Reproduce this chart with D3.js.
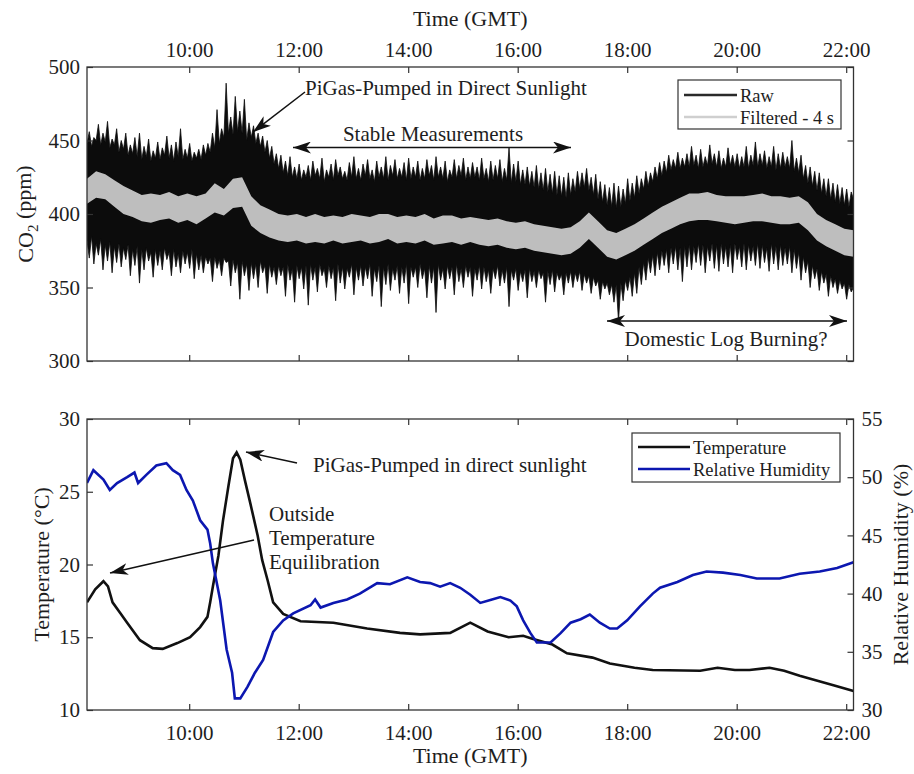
<!DOCTYPE html>
<html>
<head>
<meta charset="utf-8">
<script src="https://cdn.jsdelivr.net/npm/d3@7"></script>
<style>
  body { margin: 0; background: #fff; }
  svg text { font-family: "Liberation Serif", "Times New Roman", serif; fill: #1e1e1e; }
</style>
</head>
<body>
<svg id="chart" width="914" height="774"></svg>
<script>
var startTime = "08:08"
var endTime = "22:08"
var timeTicks = ["10:00", "12:00", "14:00", "16:00", "18:00", "20:00", "22:00"]

// CO2 raw envelope (ppm), one value every 150 s from 08:08, one row per hour
var rawStepSeconds = 150
var co2RawHigh = [
    448, 456, 446, 452, 450, 461, 447, 455, 449, 463, 445, 451, 447, 458, 442, 450, 444, 455, 440, 447, 441, 452, 439, 455,
    437, 446, 439, 451, 436, 443, 438, 449, 437, 445, 440, 453, 438, 447, 436, 449, 439, 458, 437, 444, 438, 448, 436, 442,
    438, 444, 437, 447, 440, 448, 442, 455, 445, 471, 448, 458, 452, 489, 455, 466, 454, 480, 456, 470, 455, 478, 450, 462,
    452, 460, 448, 455, 446, 453, 442, 450, 438, 446, 434, 441, 431, 440, 428, 436, 426, 439, 425, 432, 424, 434, 423, 430,
    425, 433, 423, 436, 426, 431, 424, 438, 422, 430, 425, 434, 423, 437, 426, 432, 424, 429, 423, 435, 425, 439, 424, 431,
    423, 434, 426, 437, 424, 430, 422, 436, 425, 432, 424, 439, 423, 433, 426, 437, 424, 431, 425, 435, 423, 438, 424, 432,
    425, 436, 423, 431, 424, 437, 426, 433, 423, 439, 425, 432, 424, 436, 422, 430, 425, 437, 424, 433, 426, 438, 423, 432,
    424, 435, 425, 432, 423, 438, 424, 431, 422, 436, 423, 433, 424, 437, 422, 431, 423, 445, 421, 434, 422, 436, 420, 430,
    420, 432, 419, 429, 418, 433, 417, 428, 416, 431, 415, 427, 414, 429, 413, 426, 412, 425, 411, 428, 413, 424, 415, 429,
    417, 428, 418, 431, 416, 425, 413, 427, 410, 422, 408, 420, 406, 418, 405, 421, 404, 419, 405, 417, 407, 424, 409, 421,
    411, 426, 414, 424, 417, 429, 419, 428, 422, 432, 424, 435, 426, 436, 428, 440, 430, 437, 431, 442, 431, 438, 432, 441,
    432, 446, 433, 440, 431, 444, 432, 439, 433, 447, 434, 441, 432, 443, 431, 438, 432, 445, 433, 440, 432, 441, 431, 439,
    432, 446, 431, 440, 433, 449, 432, 441, 433, 443, 431, 439, 432, 446, 430, 441, 431, 442, 432, 439, 431, 450, 429, 438,
    428, 440, 424, 433, 421, 432, 419, 429, 416, 428, 414, 424, 412, 424, 410, 421, 408, 420, 407, 418, 406, 417, 405, 415,
    410
]
var co2RawLow = [
    382, 370, 385, 366, 380, 372, 383, 362, 379, 368, 381, 360, 378, 367, 380, 364, 377, 369, 379, 358, 376, 365, 378, 353,
    376, 362, 377, 368, 374, 357, 376, 365, 375, 362, 377, 369, 374, 358, 376, 364, 373, 360, 375, 366, 374, 363, 376, 356,
    373, 362, 372, 360, 371, 366, 370, 354, 371, 363, 369, 358, 370, 367, 368, 351, 369, 360, 367, 342, 368, 358, 366, 348,
    367, 356, 366, 350, 368, 360, 365, 346, 366, 357, 364, 352, 365, 358, 364, 344, 366, 355, 363, 340, 365, 356, 364, 349,
    365, 338, 366, 355, 364, 347, 366, 358, 363, 350, 365, 356, 364, 341, 366, 353, 364, 349, 363, 357, 366, 345, 364, 355,
    365, 351, 364, 356, 366, 344, 363, 354, 365, 337, 364, 352, 366, 348, 363, 355, 365, 346, 364, 353, 366, 339, 364, 357,
    364, 350, 366, 356, 363, 343, 365, 353, 364, 333, 366, 355, 363, 349, 365, 356, 364, 345, 366, 354, 363, 350, 365, 357,
    364, 344, 363, 355, 365, 349, 364, 354, 362, 346, 363, 356, 365, 351, 362, 353, 364, 337, 362, 355, 363, 348, 361, 354,
    362, 343, 363, 354, 361, 350, 362, 356, 360, 340, 361, 352, 362, 347, 360, 355, 359, 345, 360, 353, 361, 350, 360, 354,
    361, 348, 359, 353, 358, 346, 357, 351, 355, 342, 354, 349, 353, 345, 352, 340, 352, 327, 353, 341, 355, 348, 357, 344,
    360, 346, 364, 352, 367, 355, 370, 360, 372, 358, 374, 362, 375, 365, 376, 360, 377, 366, 378, 362, 377, 354, 378, 364,
    379, 362, 378, 367, 380, 365, 379, 360, 378, 368, 380, 363, 379, 361, 380, 366, 378, 364, 379, 360, 380, 369, 378, 364,
    380, 362, 379, 368, 378, 365, 380, 363, 379, 367, 377, 361, 380, 366, 378, 362, 379, 365, 377, 366, 378, 360, 376, 363,
    374, 355, 371, 360, 368, 350, 365, 356, 363, 348, 361, 353, 359, 344, 358, 350, 356, 346, 355, 349, 353, 342, 352, 347,
    350
]

// CO2 filtered (4 s) band (ppm), one value every 10 min from 08:08
var filtStepSeconds = 600
var co2FiltHigh = [
    424, 429, 427, 423, 419, 416, 413, 414, 413, 415, 412, 414,
    412, 414, 421, 417, 424, 425, 412, 406, 403, 400, 399, 400,
    398, 400, 398, 399, 398, 400, 399, 398, 400, 400, 398, 399,
    398, 400, 397, 399, 399, 397, 398, 397, 396, 397, 395, 394,
    395, 393, 392, 391, 390, 391, 395, 401, 395, 389, 387, 390,
    393, 397, 401, 405, 408, 411, 414, 414, 415, 413, 412, 412,
    412, 413, 414, 412, 412, 411, 412, 408, 400, 396, 393, 390, 389
]
var co2FiltLow = [
    407, 411, 410, 405, 400, 398, 395, 394, 396, 397, 394, 396,
    393, 397, 401, 399, 404, 405, 392, 387, 384, 382, 381, 382,
    380, 381, 380, 382, 380, 381, 382, 380, 381, 383, 380, 381,
    380, 382, 379, 380, 381, 379, 381, 379, 378, 379, 377, 376,
    377, 375, 374, 373, 372, 373, 377, 383, 377, 371, 369, 372,
    375, 379, 383, 387, 390, 393, 395, 396, 396, 395, 394, 393,
    394, 395, 395, 394, 393, 393, 394, 389, 382, 378, 375, 372, 371
]

var co2Ticks = [300, 350, 400, 450, 500]
var tempTicks = [10, 15, 20, 25, 30]
var rhTicks = [30, 35, 40, 45, 50, 55]

var tempTimes = ["08:08", "08:17", "08:26", "08:31", "08:36", "08:44", "08:52", "09:06", "09:20", "09:31",
    "09:47", "10:01", "10:12", "10:20", "10:23", "10:26", "10:32", "10:37", "10:43", "10:48",
    "10:52", "10:56", "11:01", "11:07", "11:15", "11:20", "11:26", "11:32", "11:43", "12:02",
    "12:38", "13:15", "13:51", "14:13", "14:46", "15:08", "15:27", "15:50", "16:06", "16:16",
    "16:38", "16:54", "17:22", "17:41", "18:08", "18:28", "19:20", "19:39", "19:58", "20:14",
    "20:36", "20:52", "21:09", "21:46", "22:08"]
var tempValues = [17.4, 18.3, 18.85, 18.5, 17.4, 16.7, 16.0, 14.8, 14.25, 14.2,
    14.6, 15.0, 15.7, 16.4, 17.4, 18.5, 20.6, 23.0, 25.4, 27.3,
    27.7, 27.2, 25.8, 24.2, 22.0, 20.3, 18.9, 17.4, 16.6, 16.1,
    16.0, 15.6, 15.3, 15.2, 15.3, 16.0, 15.4, 15.0, 15.1, 14.9,
    14.5, 13.9, 13.6, 13.2, 12.9, 12.75, 12.7, 12.9, 12.75, 12.75,
    12.9, 12.7, 12.35, 11.7, 11.3]

var rhTimes = ["08:08", "08:15", "08:26", "08:33", "08:41", "08:52", "09:00", "09:04", "09:13", "09:24",
    "09:35", "09:42", "09:50", "09:57", "10:04", "10:12", "10:20", "10:23", "10:26", "10:31",
    "10:34", "10:41", "10:47", "10:50", "10:56", "11:04", "11:12", "11:21", "11:32", "11:43",
    "11:54", "12:13", "12:18", "12:24", "12:38", "12:53", "13:07", "13:26", "13:40", "13:59",
    "14:13", "14:24", "14:35", "14:46", "14:57", "15:08", "15:19", "15:30", "15:41", "15:52",
    "15:59", "16:06", "16:14", "16:21", "16:36", "16:47", "16:58", "17:09", "17:19", "17:30",
    "17:41", "17:49", "18:00", "18:14", "18:28", "18:36", "18:55", "19:12", "19:27", "19:45",
    "20:04", "20:22", "20:47", "21:09", "21:31", "21:50", "22:08"]
var rhValues = [49.5, 50.6, 49.8, 48.9, 49.5, 50.0, 50.4, 49.5, 50.2, 51.0,
    51.2, 50.6, 50.2, 48.9, 48.0, 46.3, 45.5, 44.3, 42.6, 40.6,
    39.4, 35.2, 33.2, 31.0, 31.0, 32.0, 33.2, 34.3, 36.7, 37.7,
    38.3, 39.0, 39.5, 38.8, 39.2, 39.5, 40.0, 40.9, 40.8, 41.4,
    41.0, 40.9, 40.6, 40.9, 40.5, 39.9, 39.2, 39.45, 39.7, 39.4,
    38.9, 37.7, 36.6, 35.8, 35.8, 36.6, 37.5, 37.8, 38.2, 37.5,
    37.0, 37.0, 37.7, 38.9, 40.0, 40.5, 41.0, 41.6, 41.9, 41.8,
    41.6, 41.3, 41.3, 41.7, 41.9, 42.2, 42.7]

var parseTime = d3.timeParse("%H:%M")
var svg = d3.select("#chart")

var plotLeft = 87, plotRight = 853.5
var topPanel = {top: 67, bottom: 361}
var botPanel = {top: 419, bottom: 710}

var x = d3.scaleTime()
    .domain([parseTime(startTime), parseTime(endTime)])
    .range([plotLeft, plotRight])
var yCo2 = d3.scaleLinear().domain([300, 500]).range([topPanel.bottom, topPanel.top])
var yTemp = d3.scaleLinear().domain([10, 30]).range([botPanel.bottom, botPanel.top])
var yRh = d3.scaleLinear().domain([30, 55]).range([botPanel.bottom, botPanel.top])

var tickTimes = timeTicks.map(parseTime)

function sampleTimes(n, step) {
    var t0 = parseTime(startTime)
    return d3.range(n).map(function (i) { return d3.timeSecond.offset(t0, i * step) })
}

var defs = svg.append("defs")
addClip("clipTop", topPanel)
addClip("clipBot", botPanel)
defs.append("marker")
    .attr("id", "head")
    .attr("viewBox", "0 0 18 12")
    .attr("refX", 18).attr("refY", 6)
    .attr("markerWidth", 18).attr("markerHeight", 12)
    .attr("markerUnits", "userSpaceOnUse")
    .attr("orient", "auto-start-reverse")
    .append("path")
    .attr("d", "M0,0 L18,6 L0,12 L5,6 Z")
    .attr("fill", "#111")

function addClip(id, panel) {
    defs.append("clipPath").attr("id", id)
        .append("rect")
        .attr("x", plotLeft).attr("y", panel.top)
        .attr("width", plotRight - plotLeft).attr("height", panel.bottom - panel.top)
}

// ---- top panel: CO2
var rawTimes = sampleTimes(co2RawHigh.length, rawStepSeconds)
var filtTimes = sampleTimes(co2FiltHigh.length, filtStepSeconds)

var gTop = svg.append("g").attr("clip-path", "url(#clipTop)")
gTop.append("path")
    .datum(co2RawHigh)
    .attr("d", d3.area()
        .x(function (d, i) { return x(rawTimes[i]) })
        .y0(function (d, i) { return yCo2(co2RawLow[i]) })
        .y1(function (d) { return yCo2(d) }))
    .attr("fill", "#0c0c0c")
    .attr("stroke", "#0c0c0c")
    .attr("stroke-width", 0.8)

gTop.append("path")
    .datum(co2FiltHigh)
    .attr("d", d3.area()
        .x(function (d, i) { return x(filtTimes[i]) })
        .y0(function (d, i) { return yCo2(co2FiltLow[i]) })
        .y1(function (d) { return yCo2(d) }))
    .attr("fill", "#bebebe")

drawAxes(topPanel, yCo2, co2Ticks, null, null, true)

// ---- bottom panel: temperature and humidity
var gBot = svg.append("g").attr("clip-path", "url(#clipBot)")
var tempData = tempTimes.map(function (t, i) { return {t: parseTime(t), v: tempValues[i]} })
var rhData = rhTimes.map(function (t, i) { return {t: parseTime(t), v: rhValues[i]} })

gBot.append("path")
    .datum(tempData)
    .attr("d", d3.line().x(function (d) { return x(d.t) }).y(function (d) { return yTemp(d.v) }))
    .attr("fill", "none").attr("stroke", "#111").attr("stroke-width", 2.6)
gBot.append("path")
    .datum(rhData)
    .attr("d", d3.line().x(function (d) { return x(d.t) }).y(function (d) { return yRh(d.v) }))
    .attr("fill", "none").attr("stroke", "#0c17b0").attr("stroke-width", 2.6)

drawAxes(botPanel, yTemp, tempTicks, yRh, rhTicks, false)

function styleAxis(g) {
    g.select(".domain").remove()
    g.selectAll(".tick line").attr("stroke", "#333").attr("stroke-width", 1.2)
    g.selectAll(".tick text")
        .attr("font-family", null)
        .style("font-size", "21px")
        .attr("fill", "#1e1e1e")
}

function drawAxes(panel, yLeft, leftTicks, yRight, rightTicks, timeOnTop) {
    var fmt = d3.timeFormat("%H:%M")
    svg.append("g")
        .attr("transform", "translate(0," + panel.top + ")")
        .call(d3.axisTop(x).tickValues(tickTimes).tickSize(-6).tickSizeOuter(0)
            .tickPadding(10).tickFormat(timeOnTop ? fmt : ""))
        .call(styleAxis)
    svg.append("g")
        .attr("transform", "translate(0," + panel.bottom + ")")
        .call(d3.axisBottom(x).tickValues(tickTimes).tickSize(-6).tickSizeOuter(0)
            .tickPadding(15).tickFormat(timeOnTop ? "" : fmt))
        .call(styleAxis)
    svg.append("g")
        .attr("transform", "translate(" + plotLeft + ",0)")
        .call(d3.axisLeft(yLeft).tickValues(leftTicks).tickSize(-6).tickSizeOuter(0).tickPadding(7))
        .call(styleAxis)
    var right = d3.axisRight(yRight || yLeft).tickValues(rightTicks || leftTicks)
        .tickSize(-6).tickSizeOuter(0).tickPadding(8)
    if (!yRight) right.tickFormat("")
    svg.append("g")
        .attr("transform", "translate(" + plotRight + ",0)")
        .call(right)
        .call(styleAxis)
    svg.append("rect")
        .attr("x", plotLeft).attr("y", panel.top)
        .attr("width", plotRight - plotLeft).attr("height", panel.bottom - panel.top)
        .attr("fill", "none").attr("stroke", "#333").attr("stroke-width", 1.3)
}

// ---- axis titles
var midX = (plotLeft + plotRight) / 2
svg.append("text").attr("x", midX).attr("y", 26).attr("text-anchor", "middle")
    .style("font-size", "22px").text("Time (GMT)")
svg.append("text").attr("x", midX).attr("y", 763).attr("text-anchor", "middle")
    .style("font-size", "22px").text("Time (GMT)")

var co2Label = svg.append("text")
    .attr("transform", "translate(33," + (topPanel.top + topPanel.bottom) / 2 + ") rotate(-90)")
    .attr("text-anchor", "middle").style("font-size", "22px")
co2Label.append("tspan").text("CO")
co2Label.append("tspan").attr("dy", "0.3em").style("font-size", "15px").text("2")
co2Label.append("tspan").attr("dy", "-0.3em").text(" (ppm)")

svg.append("text")
    .attr("transform", "translate(49," + (botPanel.top + botPanel.bottom) / 2 + ") rotate(-90)")
    .attr("text-anchor", "middle").style("font-size", "22px").text("Temperature (\u00B0C)")
svg.append("text")
    .attr("transform", "translate(908," + (botPanel.top + botPanel.bottom) / 2 + ") rotate(-90)")
    .attr("text-anchor", "middle").style("font-size", "22px").text("Relative Humidity (%)")

// ---- annotations
function arrow(x1, y1, x2, y2, both) {
    var l = svg.append("line")
        .attr("x1", x1).attr("y1", y1).attr("x2", x2).attr("y2", y2)
        .attr("stroke", "#111").attr("stroke-width", 1.5)
        .attr("marker-end", "url(#head)")
    if (both) l.attr("marker-start", "url(#head)")
}
function label(x, y, txt, anchor) {
    svg.append("text").attr("x", x).attr("y", y)
        .attr("text-anchor", anchor || "start")
        .style("font-size", "21px").text(txt)
}

label(305, 95, "PiGas-Pumped in Direct Sunlight")
arrow(305, 92, 253, 132)
label(433, 141, "Stable Measurements", "middle")
arrow(293, 147.5, 571, 147.5, true)
arrow(607, 321, 847, 321, true)
label(726, 346, "Domestic Log Burning?", "middle")

label(313, 472, "PiGas-Pumped in direct sunlight")
arrow(297, 463, 246, 452)
label(269, 521, "Outside")
label(269, 545, "Temperature")
label(269, 569, "Equilibration")
arrow(254, 540, 110, 573)

// ---- legends
function legend(box, items) {
    svg.append("rect")
        .attr("x", box.x).attr("y", box.y).attr("width", box.w).attr("height", box.h)
        .attr("fill", "#fff").attr("stroke", "#333").attr("stroke-width", 1.2)
    items.forEach(function (it) {
        svg.append("line")
            .attr("x1", box.x + 6).attr("x2", box.x + box.lineEnd)
            .attr("y1", it.y).attr("y2", it.y)
            .attr("stroke", it.color).attr("stroke-width", 2.6)
        svg.append("text")
            .attr("x", box.x + box.lineEnd + 3).attr("y", it.y + 6.5)
            .style("font-size", "18.5px").text(it.name)
    })
}
legend({x: 678, y: 80, w: 163, h: 49, lineEnd: 59}, [
    {name: "Raw", color: "#2a2a2a", y: 95},
    {name: "Filtered - 4 s", color: "#cfcfcf", y: 117}
])
legend({x: 632, y: 433, w: 208, h: 49, lineEnd: 58}, [
    {name: "Temperature", color: "#111", y: 447},
    {name: "Relative Humidity", color: "#0c17b0", y: 469}
])
</script>
</body>
</html>
